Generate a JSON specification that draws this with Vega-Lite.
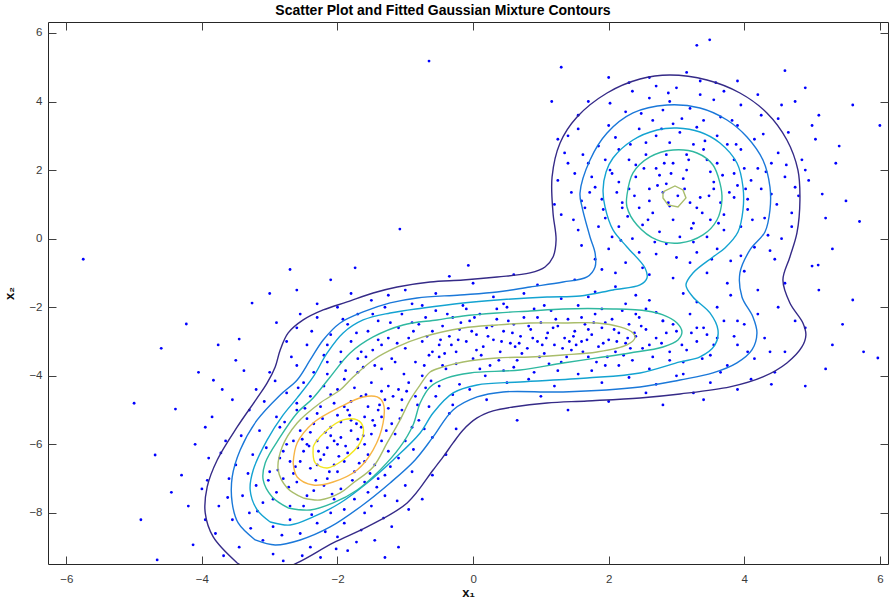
{
"$schema": "https://vega.github.io/schema/vega-lite/v6.json",
"width": 840, "height": 542,
"autosize": {"type": "none"},
"padding": {"left": 48, "top": 22, "right": 2, "bottom": 41},
"background": "white",
"title": {"text": "Scatter Plot and Fitted Gaussian Mixture Contours", "fontSize": 14, "fontWeight": "bold", "font": "Liberation Sans", "color": "#000000", "offset": 4, "dx": -25},
"config": {
  "view": {"stroke": "#262626", "strokeWidth": 1},
  "axis": {"grid": false, "domain": false, "labelFont": "Liberation Sans", "labelFontSize": 11.5, "labelColor": "#3a3a3a", "tickColor": "#404040", "tickSize": 8, "offset": -8, "titleFont": "Liberation Sans", "titleFontSize": 13, "titleFontWeight": "bold", "titleColor": "#111111"}
},
"resolve": {"axis": {"x": "independent", "y": "independent"}},
"datasets": {
"pts": [
{"x":3.02,"y":1.25},{"x":2.85,"y":1.6},{"x":3.3,"y":0.9},{"x":2.6,"y":1.1},{"x":3.55,"y":1.45},{"x":2.95,"y":0.55},{"x":3.15,"y":2.0},{"x":2.4,"y":1.8},{"x":3.7,"y":0.7},{"x":2.75,"y":0.2},{"x":3.45,"y":2.3},{"x":2.2,"y":1.05},{"x":3.85,"y":1.9},{"x":2.55,"y":2.45},{"x":3.25,"y":-0.1},{"x":4.05,"y":1.15},{"x":1.95,"y":0.6},{"x":2.9,"y":2.8},{"x":3.6,"y":-0.3},{"x":2.35,"y":0.0},{"x":4.2,"y":2.05},{"x":1.8,"y":1.5},{"x":3.05,"y":3.1},{"x":3.95,"y":0.35},{"x":2.15,"y":2.6},{"x":2.7,"y":-0.45},{"x":4.4,"y":1.3},{"x":1.65,"y":0.9},{"x":3.4,"y":3.45},{"x":3.75,"y":2.75},{"x":2.45,"y":3.2},{"x":4.35,"y":0.1},{"x":1.7,"y":2.2},{"x":2.0,"y":-0.3},{"x":3.2,"y":-0.7},{"x":4.6,"y":1.8},{"x":2.8,"y":3.75},{"x":3.9,"y":3.3},{"x":1.45,"y":1.35},{"x":4.15,"y":2.9},{"x":2.25,"y":3.7},{"x":3.55,"y":4.05},{"x":1.55,"y":0.25},{"x":4.7,"y":0.75},{"x":2.6,"y":4.1},{"x":3.0,"y":4.4},{"x":4.25,"y":3.6},{"x":1.35,"y":2.5},{"x":4.85,"y":2.3},{"x":3.8,"y":-0.65},{"x":2.5,"y":-0.85},{"x":3.35,"y":1.2},{"x":2.65,"y":0.75},{"x":3.1,"y":1.75},{"x":2.9,"y":0.95},{"x":3.5,"y":1.95},{"x":2.3,"y":1.45},{"x":3.65,"y":1.05},{"x":2.8,"y":1.35},{"x":3.25,"y":0.45},{"x":2.05,"y":1.9},{"x":3.9,"y":1.55},{"x":2.5,"y":0.4},{"x":3.4,"y":2.6},{"x":2.95,"y":2.2},{"x":3.7,"y":0.25},{"x":2.15,"y":0.35},{"x":4.1,"y":1.7},{"x":1.9,"y":1.15},{"x":3.15,"y":2.45},{"x":2.7,"y":2.05},{"x":3.85,"y":2.3},{"x":2.4,"y":2.15},{"x":3.3,"y":-0.4},{"x":4.3,"y":0.6},{"x":1.75,"y":1.8},{"x":2.85,"y":-0.15},{"x":3.6,"y":3.0},{"x":2.1,"y":2.95},{"x":4.5,"y":2.5},{"x":1.5,"y":1.9},{"x":3.45,"y":-1.0},{"x":2.25,"y":-0.7},{"x":4.55,"y":0.0},{"x":1.6,"y":-0.2},{"x":2.65,"y":3.45},{"x":3.95,"y":3.9},{"x":4.8,"y":1.25},{"x":1.3,"y":0.7},{"x":3.2,"y":3.8},{"x":2.0,"y":3.3},{"x":4.65,"y":3.1},{"x":2.9,"y":4.0},{"x":3.7,"y":4.3},{"x":1.85,"y":2.7},{"x":4.95,"y":1.7},{"x":1.4,"y":3.0},{"x":2.35,"y":4.3},{"x":3.35,"y":4.6},{"x":4.2,"y":4.2},{"x":5.05,"y":2.9},{"x":1.55,"y":3.6},{"x":4.0,"y":-0.95},{"x":2.95,"y":-1.15},{"x":3.75,"y":-1.3},{"x":4.45,"y":-0.6},{"x":1.9,"y":-0.9},{"x":5.2,"y":0.6},{"x":5.35,"y":2.2},{"x":1.25,"y":1.7},{"x":2.6,"y":4.7},{"x":3.15,"y":4.85},{"x":4.55,"y":3.9},{"x":1.7,"y":4.0},{"x":5.1,"y":3.6},{"x":2.2,"y":0.9},{"x":3.05,"y":0.05},{"x":3.5,"y":0.55},{"x":2.75,"y":1.85},{"x":3.95,"y":2.6},{"x":2.55,"y":2.8},{"x":3.3,"y":3.25},{"x":4.05,"y":0.85},{"x":2.45,"y":0.9},{"x":3.85,"y":1.2},{"x":2.6,"y":1.45},{"x":3.2,"y":1.05},{"x":2.85,"y":2.45},{"x":3.6,"y":2.2},{"x":2.3,"y":2.3},{"x":4.25,"y":1.45},{"x":1.95,"y":2.3},{"x":2.7,"y":3.0},{"x":3.45,"y":0.05},{"x":2.05,"y":0.05},{"x":4.4,"y":2.2},{"x":1.85,"y":0.35},{"x":3.0,"y":-0.55},{"x":4.15,"y":-0.25},{"x":3.65,"y":3.55},{"x":2.45,"y":-0.4},{"x":2.95,"y":3.35},{"x":4.0,"y":2.05},{"x":1.6,"y":1.1},{"x":3.25,"y":2.75},{"x":4.75,"y":1.5},{"x":2.15,"y":1.65},{"x":3.55,"y":1.65},
{"x":2.88,"y":1.05},{"x":3.12,"y":1.45},{"x":2.72,"y":1.55},{"x":3.38,"y":0.75},{"x":2.58,"y":0.55},{"x":3.48,"y":1.25},{"x":2.92,"y":1.9},{"x":3.68,"y":1.85},{"x":2.38,"y":1.25},{"x":3.22,"y":0.3},{"x":2.82,"y":2.2},{"x":3.62,"y":0.45},{"x":2.28,"y":0.65},{"x":3.78,"y":1.35},{"x":2.52,"y":2.05},{"x":3.18,"y":2.3},{"x":2.12,"y":1.35},{"x":4.02,"y":1.45},{"x":2.68,"y":-0.1},{"x":3.42,"y":2.85},{"x":2.02,"y":2.0},{"x":4.12,"y":0.55},{"x":2.32,"y":2.75},{"x":3.88,"y":2.75},{"x":2.78,"y":3.2},{"x":3.52,"y":-0.6},{"x":1.92,"y":0.85},{"x":4.32,"y":1.95},{"x":2.18,"y":-0.05},{"x":3.08,"y":3.5},{"x":1.72,"y":1.35},{"x":4.48,"y":1.0},{"x":2.48,"y":3.65},{"x":3.82,"y":3.45},{"x":1.62,"y":2.45},{"x":4.28,"y":3.05},{"x":2.88,"y":4.25},{"x":3.58,"y":4.55},{"x":2.02,"y":3.95},{"x":4.62,"y":2.15},{"x":1.48,"y":0.55},{"x":4.38,"y":-0.35},{"x":2.6,"y":-1.05},{"x":3.95,"y":-0.5},{"x":1.8,"y":-0.6},{"x":4.7,"y":0.35},{"x":1.4,"y":2.2},{"x":4.9,"y":2.0},{"x":2.3,"y":4.55},{"x":3.9,"y":4.6},{"x":4.5,"y":3.5},{"x":1.55,"y":3.2},{"x":5.15,"y":1.3},{"x":5.4,"y":2.7},{"x":1.2,"y":1.0},{"x":1.25,"y":2.9},{"x":4.75,"y":4.0},{"x":5.0,"y":3.3},{"x":3.35,"y":4.2},{"x":2.7,"y":4.45},
{"x":2.1,"y":-1.4},{"x":2.6,"y":-1.8},{"x":3.1,"y":-1.6},{"x":3.6,"y":-2.0},{"x":4.2,"y":-1.5},{"x":2.4,"y":-2.2},{"x":3.9,"y":-2.4},{"x":4.5,"y":-2.0},{"x":1.7,"y":-1.7},{"x":3.3,"y":-2.6},{"x":2.8,"y":-2.4},{"x":4.6,"y":-1.3},{"x":5.0,"y":-0.8},{"x":5.1,"y":-1.5},{"x":4.9,"y":-2.6},{"x":5.3,"y":-3.1},
{"x":-2.6,"y":-2.6},{"x":-2.45,"y":-3.1},{"x":-2.3,"y":-2.3},{"x":-2.2,"y":-3.4},{"x":-2.1,"y":-2.8},{"x":-2.0,"y":-2.0},{"x":-1.95,"y":-3.6},{"x":-1.85,"y":-2.5},{"x":-1.8,"y":-3.0},{"x":-1.7,"y":-2.2},{"x":-1.65,"y":-3.3},{"x":-1.55,"y":-2.7},{"x":-1.5,"y":-1.8},{"x":-1.45,"y":-3.7},{"x":-1.4,"y":-2.4},{"x":-1.35,"y":-3.1},{"x":-1.3,"y":-2.0},{"x":-1.25,"y":-2.9},{"x":-1.2,"y":-3.5},{"x":-1.1,"y":-2.6},{"x":-1.05,"y":-2.2},{"x":-1.0,"y":-3.2},{"x":-0.95,"y":-2.9},{"x":-0.9,"y":-1.9},{"x":-0.85,"y":-3.6},{"x":-0.8,"y":-2.5},{"x":-0.75,"y":-3.0},{"x":-0.7,"y":-2.3},{"x":-0.65,"y":-3.4},{"x":-0.6,"y":-2.7},{"x":-0.55,"y":-2.1},{"x":-0.5,"y":-3.1},{"x":-0.45,"y":-2.55},{"x":-0.4,"y":-3.8},{"x":-0.35,"y":-2.85},{"x":-0.3,"y":-2.3},{"x":-0.25,"y":-3.3},{"x":-0.2,"y":-2.65},{"x":-0.15,"y":-1.95},{"x":-0.1,"y":-3.0},{"x":-0.05,"y":-2.4},{"x":0.0,"y":-3.5},{"x":0.05,"y":-2.8},{"x":0.1,"y":-2.2},{"x":0.15,"y":-3.15},{"x":0.2,"y":-2.6},{"x":0.25,"y":-3.7},{"x":0.3,"y":-2.95},{"x":0.35,"y":-2.35},{"x":0.4,"y":-3.3},{"x":0.45,"y":-2.7},{"x":0.5,"y":-2.0},{"x":0.55,"y":-3.05},{"x":0.6,"y":-2.5},{"x":0.65,"y":-3.55},{"x":0.7,"y":-2.85},{"x":0.75,"y":-2.3},{"x":0.8,"y":-3.2},{"x":0.85,"y":-2.65},{"x":0.9,"y":-3.9},{"x":0.95,"y":-3.0},{"x":1.0,"y":-2.45},{"x":1.05,"y":-3.35},{"x":1.1,"y":-2.75},{"x":1.15,"y":-2.1},{"x":1.2,"y":-3.1},{"x":1.25,"y":-2.55},{"x":1.3,"y":-3.6},{"x":1.35,"y":-2.9},{"x":1.4,"y":-2.35},{"x":1.45,"y":-3.25},{"x":1.5,"y":-2.7},{"x":1.55,"y":-1.95},{"x":1.6,"y":-3.0},{"x":1.65,"y":-2.5},{"x":1.7,"y":-3.45},{"x":1.75,"y":-2.8},{"x":1.8,"y":-2.2},{"x":1.85,"y":-3.15},{"x":1.9,"y":-2.6},{"x":1.95,"y":-3.7},{"x":2.0,"y":-2.95},{"x":2.05,"y":-2.35},{"x":2.1,"y":-3.3},{"x":2.15,"y":-2.75},{"x":2.2,"y":-2.1},{"x":2.25,"y":-3.05},{"x":2.3,"y":-2.5},{"x":2.35,"y":-3.55},{"x":2.4,"y":-2.85},{"x":2.45,"y":-2.3},{"x":2.5,"y":-3.2},{"x":2.55,"y":-2.65},{"x":2.6,"y":-3.8},{"x":2.7,"y":-2.9},{"x":2.8,"y":-2.4},{"x":2.9,"y":-3.3},{"x":3.0,"y":-2.7},{"x":3.1,"y":-3.6},{"x":3.2,"y":-2.2},{"x":3.3,"y":-3.0},{"x":3.4,"y":-2.6},{"x":3.5,"y":-3.4},{"x":3.6,"y":-2.9},{"x":3.75,"y":-3.7},{"x":3.9,"y":-3.1},{"x":4.0,"y":-2.5},{"x":4.15,"y":-3.5},{"x":4.3,"y":-2.9},{"x":4.45,"y":-3.9},{"x":4.6,"y":-3.3},
{"x":-0.48,"y":-2.95},{"x":-0.32,"y":-3.1},{"x":-0.18,"y":-2.45},{"x":-0.02,"y":-2.7},{"x":0.12,"y":-3.4},{"x":0.28,"y":-2.55},{"x":0.42,"y":-3.0},{"x":0.58,"y":-2.75},{"x":0.72,"y":-3.35},{"x":0.88,"y":-2.9},{"x":1.02,"y":-3.1},{"x":1.18,"y":-2.6},{"x":1.32,"y":-3.2},{"x":1.48,"y":-2.85},{"x":1.62,"y":-3.3},{"x":1.78,"y":-2.45},{"x":1.92,"y":-3.05},{"x":2.08,"y":-2.65},{"x":2.22,"y":-3.4},{"x":2.38,"y":-2.75},{"x":-0.6,"y":-3.3},{"x":-0.38,"y":-2.2},{"x":0.05,"y":-3.25},{"x":0.35,"y":-2.05},{"x":0.62,"y":-3.15},{"x":0.95,"y":-2.3},{"x":1.12,"y":-3.65},{"x":1.42,"y":-3.0},{"x":1.7,"y":-2.65},{"x":1.98,"y":-3.45},{"x":2.28,"y":-2.9},{"x":2.6,"y":-3.1},{"x":2.85,"y":-2.75},{"x":3.15,"y":-3.25},{"x":3.45,"y":-2.8},{"x":-1.12,"y":-3.05},{"x":-0.88,"y":-2.7},{"x":-0.72,"y":-3.7},{"x":-1.4,"y":-2.95},{"x":-1.58,"y":-3.45},{"x":0.18,"y":-4.0},{"x":0.5,"y":-4.2},{"x":0.82,"y":-4.1},{"x":1.2,"y":-4.3},{"x":1.55,"y":-3.95},{"x":1.9,"y":-4.2},{"x":2.3,"y":-4.05},{"x":2.7,"y":-4.25},{"x":3.1,"y":-3.95},{"x":3.5,"y":-4.2},{"x":3.9,"y":-4.4},{"x":-0.2,"y":-4.25},{"x":0.3,"y":-1.7},{"x":0.75,"y":-1.6},{"x":1.3,"y":-1.75},{"x":1.8,"y":-1.55},{"x":2.4,"y":-1.65},{"x":-0.55,"y":-1.6},{"x":-1.0,"y":-1.5},{"x":0.0,"y":-1.3},{"x":2.9,"y":-3.55},{"x":3.25,"y":-4.5},{"x":1.0,"y":-4.6},{"x":0.2,"y":-4.7},{"x":2.0,"y":-4.75},{"x":-0.3,"y":-4.55},
{"x":-0.9,"y":-2.45},{"x":-0.68,"y":-2.85},{"x":-0.42,"y":-3.35},{"x":-0.22,"y":-2.95},{"x":0.02,"y":-2.3},{"x":0.22,"y":-2.85},{"x":0.38,"y":-3.55},{"x":0.52,"y":-2.4},{"x":0.68,"y":-3.05},{"x":0.82,"y":-2.55},{"x":0.98,"y":-3.45},{"x":1.08,"y":-2.9},{"x":1.22,"y":-2.35},{"x":1.38,"y":-3.45},{"x":1.52,"y":-3.1},{"x":1.68,"y":-2.95},{"x":1.82,"y":-3.6},{"x":1.95,"y":-2.45},{"x":2.12,"y":-3.0},{"x":2.32,"y":-3.2},{"x":2.48,"y":-2.55},{"x":2.65,"y":-3.45},{"x":2.78,"y":-3.05},{"x":2.95,"y":-2.5},{"x":3.08,"y":-3.1},{"x":3.22,"y":-2.75},{"x":3.38,"y":-3.5},{"x":3.55,"y":-3.1},{"x":3.7,"y":-2.4},{"x":3.85,"y":-2.85},{"x":4.05,"y":-3.3},{"x":4.2,"y":-2.2},{"x":-1.22,"y":-2.45},{"x":-1.48,"y":-2.2},{"x":-1.72,"y":-2.75},{"x":-1.92,"y":-2.35},{"x":-2.15,"y":-3.1},{"x":-2.38,"y":-2.7},{"x":-2.55,"y":-2.2},{"x":-2.75,"y":-3.0},{"x":-2.9,"y":-2.45},{"x":0.1,"y":-3.8},{"x":0.6,"y":-3.75},{"x":1.25,"y":-3.85},{"x":1.75,"y":-3.85},{"x":2.15,"y":-3.7},{"x":2.55,"y":-4.5},{"x":3.0,"y":-4.0},{"x":3.65,"y":-3.9},{"x":4.1,"y":-4.1},{"x":-0.1,"y":-2.05},{"x":0.45,"y":-1.9},{"x":1.05,"y":-1.95},{"x":1.6,"y":-2.3},{"x":2.25,"y":-1.9},{"x":2.7,"y":-2.15},{"x":-0.75,"y":-1.95},{"x":-1.25,"y":-1.65},{"x":-1.8,"y":-1.6},{"x":-2.3,"y":-1.9},{"x":0.95,"y":-1.35},{"x":1.5,"y":-1.2},{"x":2.1,"y":-1.0},{"x":0.6,"y":-1.05},{"x":-0.35,"y":-1.1},{"x":-2.1,"y":-1.2},{"x":-2.6,"y":-1.5},{"x":4.75,"y":-2.4},{"x":4.4,"y":-4.25},{"x":3.4,"y":-4.7},{"x":2.8,"y":-4.85},{"x":1.4,"y":-5.0},{"x":0.65,"y":-5.3},{"x":-0.05,"y":-4.4},{"x":-0.5,"y":-3.45},{"x":-0.25,"y":-3.65},{"x":0.45,"y":-3.85},{"x":0.9,"y":-2.05},{"x":1.9,"y":-2.05},{"x":2.55,"y":-2.05},{"x":3.3,"y":-1.85},{"x":3.8,"y":-1.65},
{"x":-2.0,"y":-6.0},{"x":-1.8,"y":-5.6},{"x":-2.2,"y":-6.3},{"x":-1.6,"y":-5.2},{"x":-2.4,"y":-6.7},{"x":-1.9,"y":-6.5},{"x":-2.1,"y":-5.5},{"x":-1.7,"y":-6.1},{"x":-2.3,"y":-5.9},{"x":-1.5,"y":-5.7},{"x":-2.5,"y":-6.2},{"x":-1.85,"y":-5.0},{"x":-2.15,"y":-7.0},{"x":-1.4,"y":-5.0},{"x":-2.6,"y":-7.1},{"x":-1.75,"y":-6.8},{"x":-2.05,"y":-4.8},{"x":-1.55,"y":-6.3},{"x":-2.35,"y":-5.4},{"x":-1.3,"y":-4.7},{"x":-2.7,"y":-6.5},{"x":-1.95,"y":-7.3},{"x":-1.65,"y":-4.6},{"x":-2.45,"y":-7.5},{"x":-1.2,"y":-5.4},{"x":-2.8,"y":-7.0},{"x":-1.45,"y":-6.6},{"x":-2.25,"y":-4.9},{"x":-1.1,"y":-4.4},{"x":-2.9,"y":-7.4},{"x":-1.6,"y":-7.1},{"x":-2.0,"y":-4.4},{"x":-1.35,"y":-5.9},{"x":-2.55,"y":-5.6},{"x":-1.05,"y":-5.0},{"x":-3.0,"y":-6.8},{"x":-1.75,"y":-7.6},{"x":-2.2,"y":-4.3},{"x":-1.25,"y":-6.2},{"x":-2.65,"y":-5.9},{"x":-0.95,"y":-4.2},{"x":-3.1,"y":-7.7},{"x":-1.9,"y":-7.9},{"x":-1.5,"y":-4.2},{"x":-2.4,"y":-4.6},{"x":-1.15,"y":-5.7},{"x":-2.75,"y":-6.0},{"x":-0.85,"y":-4.6},{"x":-3.2,"y":-7.2},{"x":-2.1,"y":-8.0},{"x":-1.7,"y":-3.9},{"x":-2.5,"y":-4.2},{"x":-1.0,"y":-5.9},{"x":-2.85,"y":-6.4},{"x":-0.75,"y":-4.0},{"x":-3.3,"y":-8.0},{"x":-2.3,"y":-8.3},{"x":-1.35,"y":-3.8},{"x":-2.9,"y":-5.2},{"x":-1.4,"y":-7.0},{"x":-2.0,"y":-6.8},{"x":-1.8,"y":-5.3},{"x":-2.15,"y":-6.1},{"x":-1.95,"y":-5.8},{"x":-2.3,"y":-6.6},{"x":-1.65,"y":-5.5},{"x":-2.45,"y":-6.0},{"x":-1.55,"y":-4.9},{"x":-2.05,"y":-7.6},{"x":-1.25,"y":-4.3},{"x":-2.6,"y":-5.0},{"x":-1.9,"y":-4.1},{"x":-2.7,"y":-7.8},{"x":-1.55,"y":-7.4},{"x":-3.05,"y":-6.1},{"x":-2.35,"y":-3.9},{"x":-1.15,"y":-3.6},{"x":-3.4,"y":-7.5},{"x":-2.55,"y":-8.6},{"x":-1.1,"y":-6.4},{"x":-3.5,"y":-6.6},{"x":-0.8,"y":-5.3},{"x":-2.95,"y":-8.4},{"x":-1.3,"y":-7.5},{"x":-3.15,"y":-5.6},{"x":-0.65,"y":-4.9},{"x":-3.55,"y":-8.2},{"x":-2.0,"y":-8.7},{"x":-1.6,"y":-8.0},{"x":-2.75,"y":-4.5},{"x":-0.9,"y":-6.8},{"x":-3.6,"y":-7.0},{"x":-2.4,"y":-9.0},{"x":-1.0,"y":-7.2},{"x":-3.3,"y":-5.0},{"x":-0.5,"y":-4.3},{"x":-3.75,"y":-7.8},{"x":-1.85,"y":-9.1},{"x":-2.95,"y":-9.2},{"x":-3.8,"y":-8.6},{"x":-0.6,"y":-5.8},{"x":-1.2,"y":-8.4},{"x":-3.2,"y":-4.4},{"x":-2.6,"y":-3.7},{"x":-0.45,"y":-3.7},{"x":-3.65,"y":-5.9},{"x":-1.45,"y":-8.8},{"x":-0.75,"y":-7.6},{"x":-3.9,"y":-6.4},{"x":-2.25,"y":-9.3},{"x":-3.45,"y":-9.0},{"x":-1.7,"y":-3.5},{"x":-0.35,"y":-5.1},{"x":-4.0,"y":-7.3},{"x":-1.95,"y":-3.3},{"x":-3.0,"y":-3.9},{"x":-0.4,"y":-6.3},{"x":-3.85,"y":-5.2},{"x":-2.8,"y":-9.4},{"x":-1.1,"y":-9.0},{"x":-0.95,"y":-7.9},{"x":-3.55,"y":-4.7},
{"x":-2.1,"y":-5.75},{"x":-1.85,"y":-6.25},{"x":-2.25,"y":-6.45},{"x":-1.7,"y":-5.85},{"x":-2.4,"y":-5.65},{"x":-1.95,"y":-5.35},{"x":-1.6,"y":-6.0},{"x":-2.55,"y":-6.5},{"x":-2.05,"y":-6.6},{"x":-1.8,"y":-4.75},{"x":-2.2,"y":-7.2},{"x":-1.45,"y":-5.45},{"x":-2.65,"y":-6.85},{"x":-1.35,"y":-5.2},{"x":-2.0,"y":-5.15},{"x":-2.35,"y":-7.35},{"x":-1.6,"y":-6.5},{"x":-2.8,"y":-6.2},{"x":-1.25,"y":-4.95},{"x":-2.5,"y":-7.8},{"x":-1.75,"y":-4.35},{"x":-2.1,"y":-4.55},{"x":-1.5,"y":-7.8},{"x":-2.95,"y":-7.6},{"x":-1.3,"y":-6.9},{"x":-2.45,"y":-5.25},{"x":-1.05,"y":-4.7},{"x":-2.7,"y":-8.2},{"x":-1.9,"y":-8.3},{"x":-2.15,"y":-3.95},{"x":-2.6,"y":-4.8},{"x":-3.1,"y":-8.8},{"x":-1.35,"y":-4.45},{"x":-0.7,"y":-4.35},{"x":-3.25,"y":-6.3},{"x":-1.65,"y":-8.5},{"x":-2.3,"y":-5.1},{"x":-0.9,"y":-5.5},{"x":-2.85,"y":-5.5},
{"x":-2.05,"y":-5.9},{"x":-1.88,"y":-6.05},{"x":-2.18,"y":-5.65},{"x":-1.72,"y":-5.4},{"x":-2.28,"y":-6.2},{"x":-1.98,"y":-6.35},{"x":-2.42,"y":-6.05},{"x":-1.62,"y":-5.75},{"x":-2.12,"y":-6.8},{"x":-1.82,"y":-5.15},{"x":-2.52,"y":-5.85},{"x":-1.48,"y":-5.3},{"x":-2.32,"y":-7.05},{"x":-1.9,"y":-4.9},{"x":-2.62,"y":-6.65},{"x":-1.38,"y":-4.85},{"x":-2.22,"y":-5.25},{"x":-1.68,"y":-6.55},{"x":-2.72,"y":-7.25},{"x":-1.58,"y":-4.55},{"x":-2.48,"y":-4.95},{"x":-1.28,"y":-5.6},{"x":-2.88,"y":-6.75},{"x":-1.78,"y":-7.05},{"x":-2.08,"y":-7.45},{"x":-1.18,"y":-4.6},{"x":-3.02,"y":-7.05},{"x":-1.52,"y":-6.85},{"x":-2.38,"y":-8.05},{"x":-1.08,"y":-5.25},{"x":-2.78,"y":-5.35},{"x":-1.88,"y":-3.85},{"x":-3.18,"y":-7.95},{"x":-1.42,"y":-7.25},{"x":-2.58,"y":-4.35},{"x":-0.98,"y":-4.45},{"x":-3.32,"y":-6.85},{"x":-1.62,"y":-3.75},{"x":-2.82,"y":-8.65},{"x":-1.22,"y":-6.65},{"x":-3.42,"y":-5.75},{"x":-0.82,"y":-4.85},{"x":-2.18,"y":-8.55},{"x":-1.32,"y":-8.15},{"x":-3.08,"y":-4.75},{"x":-0.62,"y":-4.15},{"x":-3.62,"y":-7.55},{"x":-2.02,"y":-9.05},{"x":-0.88,"y":-6.15},{"x":-3.72,"y":-6.25},{"x":-1.72,"y":-8.85},{"x":-2.52,"y":-9.25},{"x":-3.28,"y":-8.45},{"x":-0.72,"y":-5.55},{"x":-3.92,"y":-7.05},{"x":-1.12,"y":-7.65},{"x":-2.92,"y":-4.15},{"x":-1.02,"y":-3.95},{"x":-3.38,"y":-3.85},{"x":-0.55,"y":-4.6},{"x":-2.68,"y":-3.45},{"x":-1.48,"y":-3.25},{"x":-3.95,"y":-8.2},{"x":-2.15,"y":-3.6},{"x":-0.3,"y":-4.85},{"x":-0.25,"y":-5.55},{"x":-0.6,"y":-6.9},{"x":-1.3,"y":-9.3},{"x":-3.68,"y":-9.25},{"x":-4.2,"y":-7.8},{"x":-4.1,"y":-6.0},{"x":-3.95,"y":-5.5},{"x":-4.3,"y":-6.9},{"x":-3.7,"y":-4.4},{"x":-4.45,"y":-7.4},
{"x":-5.75,"y":-0.6},{"x":-4.23,"y":-2.49},{"x":-4.39,"y":-4.97},{"x":-4.69,"y":-6.31},{"x":-4.66,"y":-9.37},{"x":-4.13,"y":-8.93},{"x":-3.76,"y":-3.1},{"x":-3.45,"y":-2.93},{"x":-3.26,"y":-1.88},{"x":-3.83,"y":-4.13},{"x":-0.65,"y":5.18},{"x":-1.08,"y":0.28},{"x":-0.07,"y":-0.78},{"x":-1.74,"y":-0.85},{"x":3.49,"y":5.8},{"x":3.3,"y":5.64},{"x":6.0,"y":3.3},{"x":5.76,"y":-3.3},{"x":5.97,"y":-3.48},{"x":5.6,"y":-1.79},{"x":4.38,"y":-3.3},{"x":5.09,"y":-0.77},{"x":-4.05,"y":-3.9},{"x":-3.5,"y":-3.55},{"x":1.3,"y":5.0},{"x":2.0,"y":4.7},{"x":4.9,"y":4.4},{"x":5.5,"y":1.1},{"x":5.3,"y":-0.3},{"x":1.16,"y":4.0},{"x":5.7,"y":0.5},{"x":5.45,"y":-2.5},{"x":5.2,"y":-3.8},{"x":4.9,"y":-4.3},{"x":5.6,"y":3.9},{"x":4.6,"y":4.9},{"x":-4.6,"y":-3.2},{"x":-5.0,"y":-4.8},{"x":-4.9,"y":-8.2},{"x":-2.7,"y":-0.9},{"x":-3.0,"y":-1.6}
],
"cont": [
{"c":"n","lev":1,"o":1,"x":-3.479,"y":-9.46},{"c":"n","lev":1,"o":2,"x":-3.833,"y":-8.701},{"c":"n","lev":1,"o":3,"x":-3.951,"y":-8.001},{"c":"n","lev":1,"o":4,"x":-3.922,"y":-7.241},{"c":"n","lev":1,"o":5,"x":-3.774,"y":-6.455},{"c":"n","lev":1,"o":6,"x":-3.479,"y":-5.492},{"c":"n","lev":1,"o":7,"x":-3.184,"y":-4.646},{"c":"n","lev":1,"o":8,"x":-3.037,"y":-4.209},{"c":"n","lev":1,"o":9,"x":-2.919,"y":-3.742},{"c":"n","lev":1,"o":10,"x":-2.845,"y":-3.246},{"c":"n","lev":1,"o":11,"x":-2.727,"y":-2.75},{"c":"n","lev":1,"o":12,"x":-2.506,"y":-2.371},{"c":"n","lev":1,"o":13,"x":-2.211,"y":-2.08},{"c":"n","lev":1,"o":14,"x":-1.858,"y":-1.846},{"c":"n","lev":1,"o":15,"x":-1.474,"y":-1.584},{"c":"n","lev":1,"o":16,"x":-1.12,"y":-1.409},{"c":"n","lev":1,"o":17,"x":-0.634,"y":-1.263},{"c":"n","lev":1,"o":18,"x":-0.147,"y":-1.205},{"c":"n","lev":1,"o":19,"x":0.354,"y":-1.117},{"c":"n","lev":1,"o":20,"x":0.84,"y":-1.0},{"c":"n","lev":1,"o":21,"x":1.061,"y":-0.825},{"c":"n","lev":1,"o":22,"x":1.179,"y":-0.534},{"c":"n","lev":1,"o":23,"x":1.224,"y":-0.038},{"c":"n","lev":1,"o":24,"x":1.179,"y":0.75},{"c":"n","lev":1,"o":25,"x":1.165,"y":1.8},{"c":"n","lev":1,"o":26,"x":1.283,"y":2.791},{"c":"n","lev":1,"o":27,"x":1.533,"y":3.549},{"c":"n","lev":1,"o":28,"x":1.976,"y":4.249},{"c":"n","lev":1,"o":29,"x":2.462,"y":4.657},{"c":"n","lev":1,"o":30,"x":2.904,"y":4.774},{"c":"n","lev":1,"o":31,"x":3.45,"y":4.628},{"c":"n","lev":1,"o":32,"x":3.936,"y":4.249},{"c":"n","lev":1,"o":33,"x":4.334,"y":3.667},{"c":"n","lev":1,"o":34,"x":4.629,"y":2.878},{"c":"n","lev":1,"o":35,"x":4.791,"y":2.004},{"c":"n","lev":1,"o":36,"x":4.821,"y":1.129},{"c":"n","lev":1,"o":37,"x":4.777,"y":0.166},{"c":"n","lev":1,"o":38,"x":4.673,"y":-0.534},{"c":"n","lev":1,"o":39,"x":4.57,"y":-1.205},{"c":"n","lev":1,"o":40,"x":4.673,"y":-1.875},{"c":"n","lev":1,"o":41,"x":4.865,"y":-2.459},{"c":"n","lev":1,"o":42,"x":4.909,"y":-2.808},{"c":"n","lev":1,"o":43,"x":4.85,"y":-3.159},{"c":"n","lev":1,"o":44,"x":4.629,"y":-3.625},{"c":"n","lev":1,"o":45,"x":4.275,"y":-4.034},{"c":"n","lev":1,"o":46,"x":3.789,"y":-4.325},{"c":"n","lev":1,"o":47,"x":3.052,"y":-4.53},{"c":"n","lev":1,"o":48,"x":2.462,"y":-4.646},{"c":"n","lev":1,"o":49,"x":1.681,"y":-4.734},{"c":"n","lev":1,"o":50,"x":1.091,"y":-4.792},{"c":"n","lev":1,"o":51,"x":0.59,"y":-4.909},{"c":"n","lev":1,"o":52,"x":0.295,"y":-5.025},{"c":"n","lev":1,"o":53,"x":0.059,"y":-5.23},{"c":"n","lev":1,"o":54,"x":-0.147,"y":-5.58},{"c":"n","lev":1,"o":55,"x":-0.295,"y":-5.959},{"c":"n","lev":1,"o":56,"x":-0.442,"y":-6.367},{"c":"n","lev":1,"o":57,"x":-0.59,"y":-6.747},{"c":"n","lev":1,"o":58,"x":-0.973,"y":-7.71},{"c":"n","lev":1,"o":59,"x":-1.563,"y":-8.41},{"c":"n","lev":1,"o":60,"x":-2.064,"y":-8.877},{"c":"n","lev":1,"o":61,"x":-2.595,"y":-9.46},{"c":"n","lev":1,"o":62,"x":-3.066,"y":-9.81},{"c":"n","lev":1,"o":63,"x":-3.479,"y":-9.46},
{"c":"b","lev":2,"o":1,"x":-3.214,"y":-8.789},{"c":"b","lev":2,"o":2,"x":-3.465,"y":-8.293},{"c":"b","lev":2,"o":3,"x":-3.553,"y":-7.71},{"c":"b","lev":2,"o":4,"x":-3.553,"y":-6.951},{"c":"b","lev":2,"o":5,"x":-3.435,"y":-6.163},{"c":"b","lev":2,"o":6,"x":-3.184,"y":-5.288},{"c":"b","lev":2,"o":7,"x":-2.845,"y":-4.558},{"c":"b","lev":2,"o":8,"x":-2.595,"y":-4.121},{"c":"b","lev":2,"o":9,"x":-2.403,"y":-3.538},{"c":"b","lev":2,"o":10,"x":-2.211,"y":-2.955},{"c":"b","lev":2,"o":11,"x":-1.961,"y":-2.459},{"c":"b","lev":2,"o":12,"x":-1.622,"y":-2.138},{"c":"b","lev":2,"o":13,"x":-1.224,"y":-1.875},{"c":"b","lev":2,"o":14,"x":-0.826,"y":-1.729},{"c":"b","lev":2,"o":15,"x":-0.192,"y":-1.642},{"c":"b","lev":2,"o":16,"x":0.354,"y":-1.555},{"c":"b","lev":2,"o":17,"x":0.84,"y":-1.409},{"c":"b","lev":2,"o":18,"x":1.327,"y":-1.263},{"c":"b","lev":2,"o":19,"x":1.681,"y":-1.117},{"c":"b","lev":2,"o":20,"x":1.799,"y":-0.825},{"c":"b","lev":2,"o":21,"x":1.799,"y":-0.417},{"c":"b","lev":2,"o":22,"x":1.725,"y":0.05},{"c":"b","lev":2,"o":23,"x":1.607,"y":0.925},{"c":"b","lev":2,"o":24,"x":1.577,"y":1.333},{"c":"b","lev":2,"o":25,"x":1.725,"y":2.295},{"c":"b","lev":2,"o":26,"x":1.976,"y":3.082},{"c":"b","lev":2,"o":27,"x":2.359,"y":3.667},{"c":"b","lev":2,"o":28,"x":2.86,"y":3.899},{"c":"b","lev":2,"o":29,"x":3.347,"y":3.812},{"c":"b","lev":2,"o":30,"x":3.745,"y":3.462},{"c":"b","lev":2,"o":31,"x":4.04,"y":2.966},{"c":"b","lev":2,"o":32,"x":4.275,"y":2.295},{"c":"b","lev":2,"o":33,"x":4.379,"y":1.508},{"c":"b","lev":2,"o":34,"x":4.379,"y":0.837},{"c":"b","lev":2,"o":35,"x":4.305,"y":0.195},{"c":"b","lev":2,"o":36,"x":4.084,"y":-0.329},{"c":"b","lev":2,"o":37,"x":3.936,"y":-1.0},{"c":"b","lev":2,"o":38,"x":3.966,"y":-1.7},{"c":"b","lev":2,"o":39,"x":4.128,"y":-2.284},{"c":"b","lev":2,"o":40,"x":4.187,"y":-2.75},{"c":"b","lev":2,"o":41,"x":4.113,"y":-3.246},{"c":"b","lev":2,"o":42,"x":3.892,"y":-3.625},{"c":"b","lev":2,"o":43,"x":3.538,"y":-3.917},{"c":"b","lev":2,"o":44,"x":3.052,"y":-4.121},{"c":"b","lev":2,"o":45,"x":2.462,"y":-4.325},{"c":"b","lev":2,"o":46,"x":1.327,"y":-4.471},{"c":"b","lev":2,"o":47,"x":0.442,"y":-4.471},{"c":"b","lev":2,"o":48,"x":0.059,"y":-4.617},{"c":"b","lev":2,"o":49,"x":-0.295,"y":-4.996},{"c":"b","lev":2,"o":50,"x":-0.59,"y":-5.784},{"c":"b","lev":2,"o":51,"x":-0.855,"y":-6.455},{"c":"b","lev":2,"o":52,"x":-1.224,"y":-7.126},{"c":"b","lev":2,"o":53,"x":-1.666,"y":-7.826},{"c":"b","lev":2,"o":54,"x":-2.108,"y":-8.41},{"c":"b","lev":2,"o":55,"x":-2.55,"y":-8.789},{"c":"b","lev":2,"o":56,"x":-2.919,"y":-8.935},{"c":"b","lev":2,"o":57,"x":-3.214,"y":-8.789},
{"c":"c","lev":3,"o":1,"x":-2.993,"y":-8.264},{"c":"c","lev":3,"o":2,"x":-3.184,"y":-7.914},{"c":"c","lev":3,"o":3,"x":-3.288,"y":-7.33},{"c":"c","lev":3,"o":4,"x":-3.243,"y":-6.747},{"c":"c","lev":3,"o":5,"x":-3.037,"y":-5.871},{"c":"c","lev":3,"o":6,"x":-2.801,"y":-5.142},{"c":"c","lev":3,"o":7,"x":-2.595,"y":-4.646},{"c":"c","lev":3,"o":8,"x":-2.359,"y":-4.034},{"c":"c","lev":3,"o":9,"x":-2.152,"y":-3.334},{"c":"c","lev":3,"o":10,"x":-1.917,"y":-2.75},{"c":"c","lev":3,"o":11,"x":-1.622,"y":-2.371},{"c":"c","lev":3,"o":12,"x":-1.224,"y":-2.167},{"c":"c","lev":3,"o":13,"x":-0.737,"y":-2.021},{"c":"c","lev":3,"o":14,"x":-0.147,"y":-1.875},{"c":"c","lev":3,"o":15,"x":0.354,"y":-1.788},{"c":"c","lev":3,"o":16,"x":1.091,"y":-1.7},{"c":"c","lev":3,"o":17,"x":1.577,"y":-1.671},{"c":"c","lev":3,"o":18,"x":2.064,"y":-1.496},{"c":"c","lev":3,"o":19,"x":2.462,"y":-1.351},{"c":"c","lev":3,"o":20,"x":2.565,"y":-1.146},{"c":"c","lev":3,"o":21,"x":2.536,"y":-0.855},{"c":"c","lev":3,"o":22,"x":2.27,"y":-0.242},{"c":"c","lev":3,"o":23,"x":2.064,"y":0.254},{"c":"c","lev":3,"o":24,"x":1.946,"y":0.925},{"c":"c","lev":3,"o":25,"x":1.917,"y":1.42},{"c":"c","lev":3,"o":26,"x":1.961,"y":1.946},{"c":"c","lev":3,"o":27,"x":2.064,"y":2.353},{"c":"c","lev":3,"o":28,"x":2.359,"y":2.878},{"c":"c","lev":3,"o":29,"x":2.713,"y":3.17},{"c":"c","lev":3,"o":30,"x":3.008,"y":3.228},{"c":"c","lev":3,"o":31,"x":3.347,"y":3.112},{"c":"c","lev":3,"o":32,"x":3.641,"y":2.791},{"c":"c","lev":3,"o":33,"x":3.892,"y":2.208},{"c":"c","lev":3,"o":34,"x":3.981,"y":1.508},{"c":"c","lev":3,"o":35,"x":3.981,"y":0.837},{"c":"c","lev":3,"o":36,"x":3.907,"y":0.195},{"c":"c","lev":3,"o":37,"x":3.715,"y":-0.271},{"c":"c","lev":3,"o":38,"x":3.538,"y":-0.534},{"c":"c","lev":3,"o":39,"x":3.243,"y":-1.0},{"c":"c","lev":3,"o":40,"x":3.14,"y":-1.351},{"c":"c","lev":3,"o":41,"x":3.243,"y":-1.7},{"c":"c","lev":3,"o":42,"x":3.494,"y":-2.167},{"c":"c","lev":3,"o":43,"x":3.612,"y":-2.663},{"c":"c","lev":3,"o":44,"x":3.568,"y":-3.1},{"c":"c","lev":3,"o":45,"x":3.347,"y":-3.45},{"c":"c","lev":3,"o":46,"x":3.052,"y":-3.596},{"c":"c","lev":3,"o":47,"x":2.462,"y":-3.917},{"c":"c","lev":3,"o":48,"x":1.681,"y":-4.063},{"c":"c","lev":3,"o":49,"x":0.693,"y":-4.179},{"c":"c","lev":3,"o":50,"x":0.059,"y":-4.267},{"c":"c","lev":3,"o":51,"x":-0.295,"y":-4.5},{"c":"c","lev":3,"o":52,"x":-0.59,"y":-5.084},{"c":"c","lev":3,"o":53,"x":-0.781,"y":-5.667},{"c":"c","lev":3,"o":54,"x":-1.179,"y":-6.455},{"c":"c","lev":3,"o":55,"x":-1.563,"y":-7.126},{"c":"c","lev":3,"o":56,"x":-1.961,"y":-7.71},{"c":"c","lev":3,"o":57,"x":-2.359,"y":-8.118},{"c":"c","lev":3,"o":58,"x":-2.698,"y":-8.352},{"c":"c","lev":3,"o":59,"x":-2.993,"y":-8.264},
{"c":"t","lev":4,"o":1,"x":-2.727,"y":-7.855},{"c":"t","lev":4,"o":2,"x":-2.963,"y":-7.535},{"c":"t","lev":4,"o":3,"x":-3.096,"y":-7.039},{"c":"t","lev":4,"o":4,"x":-3.066,"y":-6.542},{"c":"t","lev":4,"o":5,"x":-2.845,"y":-5.784},{"c":"t","lev":4,"o":6,"x":-2.595,"y":-5.084},{"c":"t","lev":4,"o":7,"x":-2.359,"y":-4.646},{"c":"t","lev":4,"o":8,"x":-2.108,"y":-4.034},{"c":"t","lev":4,"o":9,"x":-1.813,"y":-3.334},{"c":"t","lev":4,"o":10,"x":-1.474,"y":-2.867},{"c":"t","lev":4,"o":11,"x":-1.032,"y":-2.517},{"c":"t","lev":4,"o":12,"x":-0.531,"y":-2.371},{"c":"t","lev":4,"o":13,"x":-0.147,"y":-2.255},{"c":"t","lev":4,"o":14,"x":0.354,"y":-2.167},{"c":"t","lev":4,"o":15,"x":0.84,"y":-2.109},{"c":"t","lev":4,"o":16,"x":1.327,"y":-2.05},{"c":"t","lev":4,"o":17,"x":2.064,"y":-2.05},{"c":"t","lev":4,"o":18,"x":2.565,"y":-2.109},{"c":"t","lev":4,"o":19,"x":2.801,"y":-2.226},{"c":"t","lev":4,"o":20,"x":3.008,"y":-2.459},{"c":"t","lev":4,"o":21,"x":3.081,"y":-2.721},{"c":"t","lev":4,"o":22,"x":3.022,"y":-2.955},{"c":"t","lev":4,"o":23,"x":2.801,"y":-3.159},{"c":"t","lev":4,"o":24,"x":2.315,"y":-3.334},{"c":"t","lev":4,"o":25,"x":1.828,"y":-3.479},{"c":"t","lev":4,"o":26,"x":1.327,"y":-3.625},{"c":"t","lev":4,"o":27,"x":0.693,"y":-3.83},{"c":"t","lev":4,"o":28,"x":-0.044,"y":-3.917},{"c":"t","lev":4,"o":29,"x":-0.383,"y":-4.063},{"c":"t","lev":4,"o":30,"x":-0.634,"y":-4.325},{"c":"t","lev":4,"o":31,"x":-0.781,"y":-4.792},{"c":"t","lev":4,"o":32,"x":-0.885,"y":-5.434},{"c":"t","lev":4,"o":33,"x":-1.076,"y":-6.076},{"c":"t","lev":4,"o":34,"x":-1.371,"y":-6.747},{"c":"t","lev":4,"o":35,"x":-1.71,"y":-7.33},{"c":"t","lev":4,"o":36,"x":-2.064,"y":-7.71},{"c":"t","lev":4,"o":37,"x":-2.403,"y":-7.914},{"c":"t","lev":4,"o":38,"x":-2.727,"y":-7.855},
{"c":"o","lev":5,"o":1,"x":-2.506,"y":-7.564},{"c":"o","lev":5,"o":2,"x":-2.742,"y":-7.272},{"c":"o","lev":5,"o":3,"x":-2.875,"y":-6.747},{"c":"o","lev":5,"o":4,"x":-2.816,"y":-6.076},{"c":"o","lev":5,"o":5,"x":-2.595,"y":-5.376},{"c":"o","lev":5,"o":6,"x":-2.256,"y":-4.792},{"c":"o","lev":5,"o":7,"x":-1.961,"y":-4.413},{"c":"o","lev":5,"o":8,"x":-1.769,"y":-4.034},{"c":"o","lev":5,"o":9,"x":-1.474,"y":-3.538},{"c":"o","lev":5,"o":10,"x":-1.12,"y":-3.159},{"c":"o","lev":5,"o":11,"x":-0.737,"y":-2.867},{"c":"o","lev":5,"o":12,"x":-0.147,"y":-2.605},{"c":"o","lev":5,"o":13,"x":0.354,"y":-2.517},{"c":"o","lev":5,"o":14,"x":0.84,"y":-2.459},{"c":"o","lev":5,"o":15,"x":1.327,"y":-2.459},{"c":"o","lev":5,"o":16,"x":1.828,"y":-2.459},{"c":"o","lev":5,"o":17,"x":2.167,"y":-2.575},{"c":"o","lev":5,"o":18,"x":2.359,"y":-2.75},{"c":"o","lev":5,"o":19,"x":2.388,"y":-2.896},{"c":"o","lev":5,"o":20,"x":2.27,"y":-3.1},{"c":"o","lev":5,"o":21,"x":1.828,"y":-3.305},{"c":"o","lev":5,"o":22,"x":1.327,"y":-3.392},{"c":"o","lev":5,"o":23,"x":0.84,"y":-3.45},{"c":"o","lev":5,"o":24,"x":0.354,"y":-3.479},{"c":"o","lev":5,"o":25,"x":-0.147,"y":-3.596},{"c":"o","lev":5,"o":26,"x":-0.442,"y":-3.742},{"c":"o","lev":5,"o":27,"x":-0.634,"y":-3.888},{"c":"o","lev":5,"o":28,"x":-0.781,"y":-4.267},{"c":"o","lev":5,"o":29,"x":-0.929,"y":-4.705},{"c":"o","lev":5,"o":30,"x":-1.076,"y":-5.288},{"c":"o","lev":5,"o":31,"x":-1.268,"y":-5.959},{"c":"o","lev":5,"o":32,"x":-1.474,"y":-6.659},{"c":"o","lev":5,"o":33,"x":-1.769,"y":-7.126},{"c":"o","lev":5,"o":34,"x":-1.961,"y":-7.418},{"c":"o","lev":5,"o":35,"x":-2.256,"y":-7.622},{"c":"o","lev":5,"o":36,"x":-2.506,"y":-7.564},
{"c":"r","lev":6,"o":1,"x":-2.654,"y":-6.542},{"c":"r","lev":6,"o":2,"x":-2.595,"y":-6.951},{"c":"r","lev":6,"o":3,"x":-2.359,"y":-7.185},{"c":"r","lev":6,"o":4,"x":-2.064,"y":-7.097},{"c":"r","lev":6,"o":5,"x":-1.71,"y":-6.747},{"c":"r","lev":6,"o":6,"x":-1.474,"y":-6.163},{"c":"r","lev":6,"o":7,"x":-1.327,"y":-5.376},{"c":"r","lev":6,"o":8,"x":-1.327,"y":-4.792},{"c":"r","lev":6,"o":9,"x":-1.415,"y":-4.617},{"c":"r","lev":6,"o":10,"x":-1.622,"y":-4.617},{"c":"r","lev":6,"o":11,"x":-1.961,"y":-4.909},{"c":"r","lev":6,"o":12,"x":-2.359,"y":-5.376},{"c":"r","lev":6,"o":13,"x":-2.595,"y":-5.959},{"c":"r","lev":6,"o":14,"x":-2.654,"y":-6.542},
{"c":"y","lev":7,"o":1,"x":-2.359,"y":-6.076},{"c":"y","lev":7,"o":2,"x":-2.329,"y":-6.542},{"c":"y","lev":7,"o":3,"x":-2.152,"y":-6.688},{"c":"y","lev":7,"o":4,"x":-1.917,"y":-6.455},{"c":"y","lev":7,"o":5,"x":-1.666,"y":-5.959},{"c":"y","lev":7,"o":6,"x":-1.622,"y":-5.492},{"c":"y","lev":7,"o":7,"x":-1.71,"y":-5.288},{"c":"y","lev":7,"o":8,"x":-1.917,"y":-5.288},{"c":"y","lev":7,"o":9,"x":-2.152,"y":-5.58},{"c":"y","lev":7,"o":10,"x":-2.329,"y":-5.959},{"c":"y","lev":7,"o":11,"x":-2.359,"y":-6.076},
{"c":"tu","lev":4,"o":1,"x":2.27,"y":1.274},{"c":"tu","lev":4,"o":2,"x":2.359,"y":1.916},{"c":"tu","lev":4,"o":3,"x":2.609,"y":2.383},{"c":"tu","lev":4,"o":4,"x":2.949,"y":2.587},{"c":"tu","lev":4,"o":5,"x":3.302,"y":2.499},{"c":"tu","lev":4,"o":6,"x":3.538,"y":2.15},{"c":"tu","lev":4,"o":7,"x":3.641,"y":1.625},{"c":"tu","lev":4,"o":8,"x":3.671,"y":1.129},{"c":"tu","lev":4,"o":9,"x":3.597,"y":0.545},{"c":"tu","lev":4,"o":10,"x":3.391,"y":0.108},{"c":"tu","lev":4,"o":11,"x":3.052,"y":-0.125},{"c":"tu","lev":4,"o":12,"x":2.713,"y":-0.038},{"c":"tu","lev":4,"o":13,"x":2.418,"y":0.399},{"c":"tu","lev":4,"o":14,"x":2.27,"y":0.925},{"c":"tu","lev":4,"o":15,"x":2.27,"y":1.274},
{"c":"h","lev":5,"o":1,"x":2.801,"y":1.362},{"c":"h","lev":5,"o":2,"x":2.978,"y":1.537},{"c":"h","lev":5,"o":3,"x":3.096,"y":1.42},{"c":"h","lev":5,"o":4,"x":3.14,"y":1.187},{"c":"h","lev":5,"o":5,"x":3.022,"y":0.925},{"c":"h","lev":5,"o":6,"x":2.875,"y":0.983},{"c":"h","lev":5,"o":7,"x":2.801,"y":1.187},{"c":"h","lev":5,"o":8,"x":2.801,"y":1.362}
]
},
"layer": [
{
 "data": {"name": "pts"},
 "mark": {"type": "point", "shape": "circle", "filled": true, "size": 8, "color": "#0000ff", "opacity": 1, "clip": true},
 "encoding": {
  "x": {"field": "x", "type": "quantitative", "scale": {"domain": [-6.27, 6.12], "nice": false, "zero": false}, "axis": {"orient": "bottom", "values": [-6,-4,-2,0,2,4,6], "title": "x₁", "labelPadding": 9, "titlePadding": 2}},
  "y": {"field": "y", "type": "quantitative", "scale": {"domain": [-9.49, 6.32], "nice": false, "zero": false}, "axis": {"orient": "left", "values": [-8,-6,-4,-2,0,2,4,6], "title": "x₂", "labelPadding": 6, "titlePadding": 12}}
 }
},
{
 "data": {"name": "cont"},
 "transform": [{"filter": "datum.c != 'h'"}],
 "mark": {"type": "line", "interpolate": "catmull-rom", "strokeWidth": 1.4, "clip": true},
 "encoding": {
  "x": {"field": "x", "type": "quantitative", "axis": null},
  "y": {"field": "y", "type": "quantitative", "axis": null},
  "detail": {"field": "c", "type": "nominal"},
  "order": {"field": "o", "type": "quantitative"},
  "color": {"field": "lev", "type": "ordinal", "scale": {"domain": [1,2,3,4,5,6,7], "range": ["#352a87","#1a78d9","#13a3d1","#2fb8a0","#a9bd6b","#f7b545","#f3e61e"]}, "legend": null}
 }
},
{
 "data": {"name": "cont"},
 "transform": [{"filter": "datum.c == 'h'"}],
 "mark": {"type": "line", "interpolate": "linear", "strokeWidth": 1.4, "clip": true},
 "encoding": {
  "x": {"field": "x", "type": "quantitative", "axis": {"orient": "top", "values": [-6,-4,-2,0,2,4,6], "labels": false, "title": null}},
  "y": {"field": "y", "type": "quantitative", "axis": {"orient": "right", "values": [-8,-6,-4,-2,0,2,4,6], "labels": false, "title": null}},
  "detail": {"field": "c", "type": "nominal"},
  "order": {"field": "o", "type": "quantitative"},
  "color": {"field": "lev", "type": "ordinal", "legend": null}
 }
}
]
}
